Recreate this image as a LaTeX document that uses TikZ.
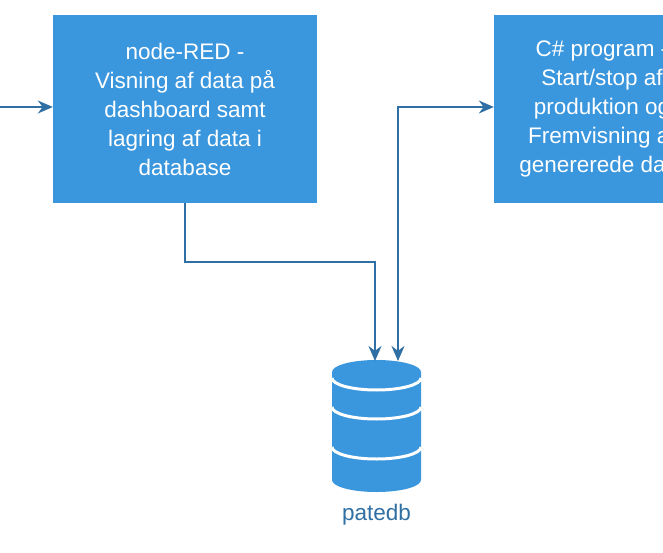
\documentclass[tikz,border=0pt]{standalone}
\usepackage{fontspec}
\setmainfont{Liberation Sans}
\usetikzlibrary{arrows.meta}
\definecolor{boxc}{HTML}{3A96DD}
\definecolor{linec}{HTML}{2F6FA3}
\begin{document}
\begin{tikzpicture}[x=1pt,y=-1pt,
  box/.style={fill=boxc,draw=none,minimum height=188pt,text=white,align=center,font=\fontsize{22.5}{29}\selectfont},
  tip/.tip={Stealth[length=15pt,width=13pt]},
  conn/.style={draw=linec,line width=1.4pt,-tip}]
\clip (0,0) rectangle (663,553);
\fill[white] (0,0) rectangle (663,553);
\node[box,minimum width=264pt] (nr) at (185,109) {node-RED -\\Visning af data på\\dashboard samt\\lagring af data i\\database};
\node[box,minimum width=216pt] (cs) at (602,109) {C\# program -\\Start/stop af\\produktion og\\Fremvisning af\\genererede data};
\coordinate (in) at (0,107);
% database
\fill[boxc] (332,372) -- (332,480) arc[start angle=180,end angle=0,x radius=44.5,y radius=12] -- (421,372) -- cycle;
\fill[boxc] (376.5,372) ellipse[x radius=44.5,y radius=12];
\draw[white,line width=3pt] (332,378) arc[start angle=180,end angle=0,x radius=44.5,y radius=12];
\draw[white,line width=3pt] (332,407) arc[start angle=180,end angle=0,x radius=44.5,y radius=12];
\draw[white,line width=3pt] (332,447) arc[start angle=180,end angle=0,x radius=44.5,y radius=12];
\coordinate (db1) at (375,361);
\coordinate (db2) at (398,361);
\node[text=linec,font=\fontsize{22.5}{25}\selectfont] (lbl) at (376.5,515) {patedb};
\draw[conn] (in) -- (nr.west |- in);
\draw[conn] (nr.south) -- (185,262) -| (db1);
\draw[conn,tip-tip] (db2) |- (cs.west |- in);
\end{tikzpicture}
\end{document}
